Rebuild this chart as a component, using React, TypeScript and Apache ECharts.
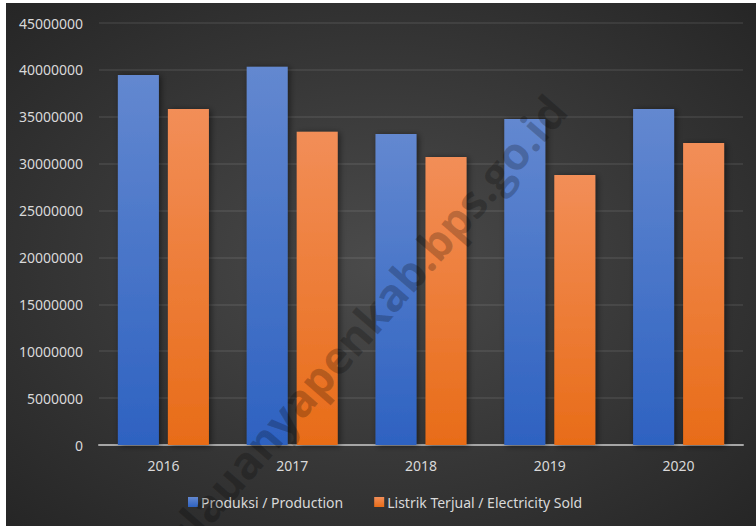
import React, { useEffect, useRef } from "react";
import * as echarts from "echarts";

const categories = ["2016", "2017", "2018", "2019", "2020"];
const produksi = [39450000, 40340000, 33160000, 34760000, 35830000];
const listrikTerjual = [35830000, 33410000, 30710000, 28790000, 32200000];
const seriesNames = ["Produksi / Production", "Listrik Terjual / Electricity Sold"];
const watermark = "kepulauanyapenkab.bps.go.id";

const FONT = "'Noto Sans', 'Open Sans', sans-serif";

export default function App() {
  const ref = useRef<HTMLDivElement>(null);
  useEffect(() => {
    if (!ref.current) return;
    const chart = echarts.init(ref.current, undefined, { renderer: "svg" });
    const barShadow = {
      shadowBlur: 6,
      shadowColor: "rgba(0,0,0,0.5)",
      shadowOffsetX: 2,
      shadowOffsetY: 1,
    };
    chart.setOption({
      animation: false,
      backgroundColor: "#ffffff",
      graphic: [
        {
          type: "rect",
          z: -10,
          silent: true,
          shape: { x: 6, y: 3, width: 750, height: 523 },
          style: {
            fill: new echarts.graphic.RadialGradient(0.5, 0.5, 0.7, [
              { offset: 0, color: "#4b4b4b" },
              { offset: 1, color: "#262626" },
            ]),
          },
        },
        {
          type: "text",
          z: 100,
          silent: true,
          x: 336,
          y: 356,
          rotation: (49 * Math.PI) / 180,
          style: {
            text: watermark,
            fontSize: 45,
            fontWeight: "bold",
            fontFamily: "'Open Sans', 'Noto Sans', sans-serif",
            fill: "rgba(0,0,0,0.22)",
            align: "center",
            verticalAlign: "middle",
          },
        },
      ],
      grid: { left: 99, right: 13, top: 23, bottom: 81 },
      legend: {
        data: seriesNames,
        left: 183,
        top: 490,
        itemWidth: 10,
        itemHeight: 10,
        itemGap: 31,
        icon: "rect",
        textStyle: { color: "#d9d9d9", fontSize: 14, fontFamily: FONT, padding: [0, 0, 0, -2] },
      },
      xAxis: {
        type: "category",
        data: categories,
        axisTick: { show: false },
        axisLine: { lineStyle: { color: "#a6a6a6", width: 2 } },
        axisLabel: { color: "#d9d9d9", fontSize: 14, fontFamily: FONT, margin: 13 },
      },
      yAxis: {
        type: "value",
        min: 0,
        max: 45000000,
        interval: 5000000,
        axisLine: { show: false },
        axisTick: { show: false },
        axisLabel: {
          color: "#d9d9d9",
          fontSize: 14,
          fontFamily: FONT,
          margin: 16,
          formatter: (v: number) => String(v),
        },
        splitLine: { lineStyle: { color: "rgba(255,255,255,0.1)", width: 1.5 } },
      },
      series: [
        {
          name: seriesNames[0],
          type: "bar",
          data: produksi,
          barWidth: 41,
          barGap: "22%",
          itemStyle: {
            color: new echarts.graphic.LinearGradient(0, 0, 0, 1, [
              { offset: 0, color: "#6388d0" },
              { offset: 1, color: "#2e62c1" },
            ]),
            ...barShadow,
          },
        },
        {
          name: seriesNames[1],
          type: "bar",
          data: listrikTerjual,
          barWidth: 41,
          itemStyle: {
            color: new echarts.graphic.LinearGradient(0, 0, 0, 1, [
              { offset: 0, color: "#f28e58" },
              { offset: 1, color: "#e86c18" },
            ]),
            ...barShadow,
          },
        },
      ],
    });
    return () => chart.dispose();
  }, []);
  return (
    <div
      ref={ref}
      style={{ position: "fixed", left: 0, top: 0, width: 756, height: 526 }}
    />
  );
}
